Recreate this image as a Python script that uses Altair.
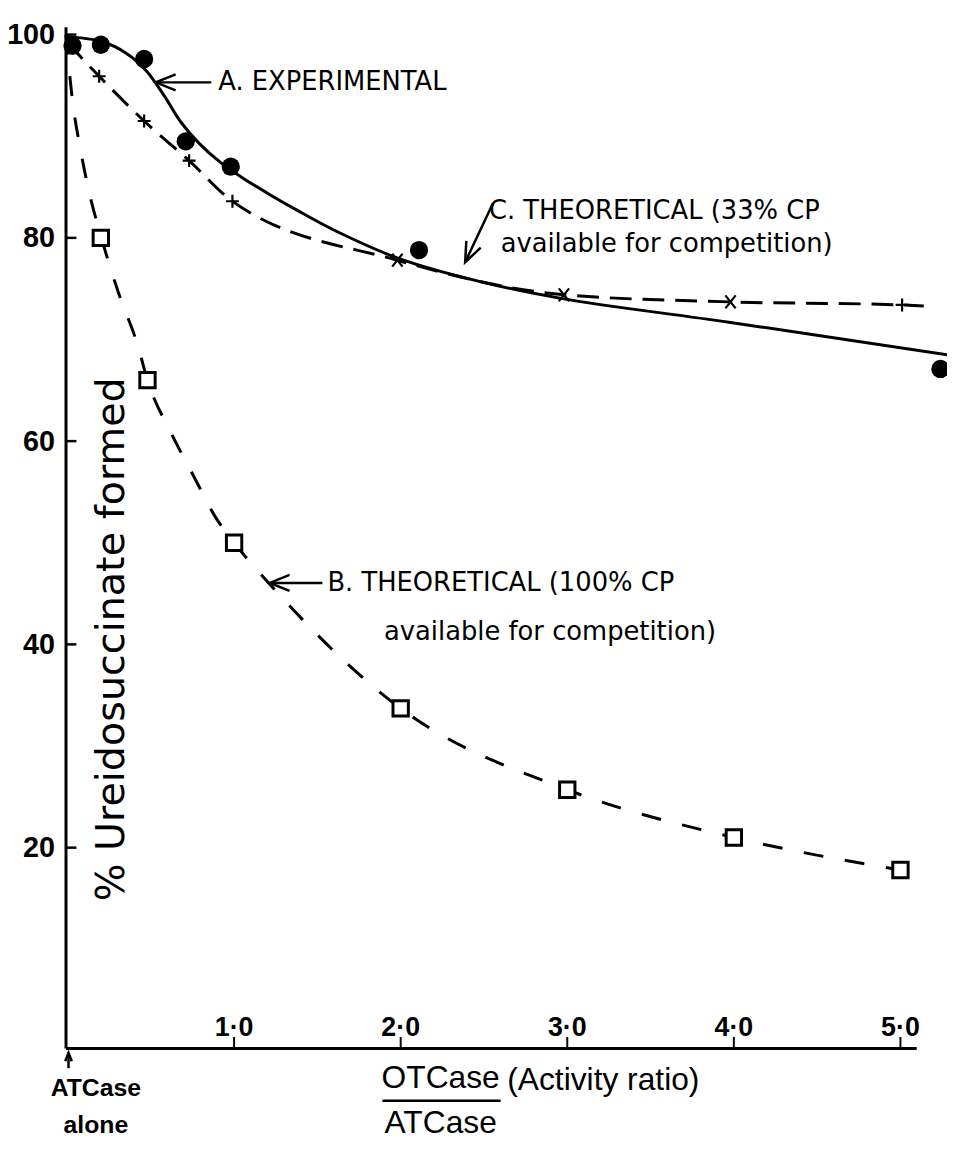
import altair as alt
import pandas as pd

# ---------------- data ----------------
# A. experimental points (filled circles)
exp_x = [0.03, 0.20, 0.46, 0.71, 0.98, 2.11, 5.24]
exp_y = [98.9, 99.0, 97.6, 89.5, 87.0, 78.8, 67.1]
# A. smooth hand-drawn curve through the experimental points (traced)
expc_x = [-0.01, 0.21, 0.35, 0.47, 0.58, 0.68, 0.79, 0.92, 1.07, 1.22, 1.38, 1.62, 2.0, 2.5, 2.98, 3.97, 5.28]
expc_y = [99.8, 99.3, 98.2, 96.5, 94.0, 91.4, 89.3, 87.4, 85.7, 84.2, 82.7, 80.6, 77.9, 75.6, 74.0, 71.7, 68.5]

# B. theoretical, 100% CP available (open squares)
b_x = [0.20, 0.48, 1.0, 2.0, 3.0, 4.0, 5.0]
b_y = [80.0, 66.0, 50.0, 33.7, 25.7, 21.0, 17.8]
# B. dashed curve (traced)
bc_x = [-0.01, 0.03, 0.08, 0.13, 0.20, 0.31, 0.42, 0.48, 0.625, 0.756, 0.893, 1.0, 1.21, 2.0, 3.0, 4.0, 5.0]
bc_y = [100.0, 93.5, 88.5, 84.5, 80.2, 74.4, 69.5, 66.0, 60.7, 56.6, 52.4, 50.0, 46.0, 33.7, 25.7, 21.0, 17.8]

# C. theoretical, 33% CP available (crosses)
c_x = [0.19, 0.46, 0.73, 0.99, 1.98, 2.98, 3.98, 5.01]
c_y = [95.9, 91.5, 87.6, 83.6, 77.8, 74.4, 73.7, 73.4]
c_kind = ["plus", "plus", "plus", "plus", "x", "x", "x", "plus"]
# C. dashed curve (traced)
cc_x = [0.0, 0.19, 0.46, 0.73, 0.99, 1.98, 2.98, 3.98, 5.01, 5.14]
cc_y = [99.2, 95.9, 91.5, 87.6, 83.6, 77.8, 74.4, 73.7, 73.4, 73.3]

# axis ticks / labels
x_ticks = [1, 2, 3, 4, 5]
x_tick_labels = ["1·0", "2·0", "3·0", "4·0", "5·0"]
y_ticks = [20, 40, 60, 80, 100]

# annotations (data coordinates)
ann_text = ["A. EXPERIMENTAL", "C. THEORETICAL (33% CP", "available for competition)",
            "B. THEORETICAL (100% CP", "available for competition)"]
ann_x = [0.905, 2.53, 2.60, 1.56, 1.90]
ann_y = [95.3, 82.6, 79.4, 46.05, 41.2]

arrow_x1 = [0.863, 2.554, 1.530, 0.006]
arrow_y1 = [95.3, 83.4, 46.05, -1.7]
arrow_x2 = [0.530, 2.387, 1.214, 0.006]
arrow_y2 = [95.3, 77.6, 46.05, -0.2]
arrow_angle = [180, 115, 180, 270]
arrow_size = [400, 400, 400, 70]

# labels under the x axis
origin_text = ["ATCase", "alone"]
origin_x = [0.17, 0.17]
origin_y = [-3.7, -7.3]
frac_text = ["OTCase", "ATCase"]
frac_x = [2.24, 2.24]
frac_y = [-2.7, -7.1]
ratio_text = ["(Activity ratio)"]
ratio_x = [2.64]
ratio_y = [-2.9]

# ---------------- scales ----------------
XS = alt.Scale(domain=[-0.012, 5.095], nice=False, zero=False)
YS = alt.Scale(domain=[0.29, 100.78], nice=False, zero=False)
LBLFONT = "Liberation Sans"
ANNFONT = "DejaVu Sans"

x_axis = alt.Axis(labels=False, ticks=False, grid=False, title=None,
                  domainColor="black", domainWidth=3)
y_axis = alt.Axis(values=y_ticks, ticks=False, grid=False, title=None,
                  domainColor="black", domainWidth=3, labelFont=LBLFONT,
                  labelFontSize=29, labelFontWeight="bold", labelColor="black",
                  labelPadding=11)


def X(f="x"):
    return alt.X(f"{f}:Q", scale=XS, axis=x_axis)


def Y(f="y"):
    return alt.Y(f"{f}:Q", scale=YS, axis=y_axis)


paths = {"plus": "M-1,0L1,0M0,-1L0,1", "x": "M-0.8,-1L0.8,1M-0.8,1L0.8,-1"}

exp_df = pd.DataFrame({"x": exp_x, "y": exp_y})
expc_df = pd.DataFrame({"x": expc_x, "y": expc_y})
b_df = pd.DataFrame({"x": b_x, "y": b_y})
bc_df = pd.DataFrame({"x": bc_x, "y": bc_y})
c_df = pd.DataFrame({"x": c_x, "y": c_y, "shape": [paths[k] for k in c_kind]})
cc_df = pd.DataFrame({"x": cc_x, "y": cc_y})

line_a = alt.Chart(expc_df).mark_line(color="black", strokeWidth=3, interpolate="catmull-rom").encode(
    x=X(), y=Y(), order="x:Q")
line_c = alt.Chart(cc_df).mark_line(color="black", strokeWidth=3, strokeDash=[22, 11],
                                     interpolate="monotone").encode(x=X(), y=Y(), order="x:Q")
line_b = alt.Chart(bc_df).mark_line(color="black", strokeWidth=3, strokeDash=[20, 22],
                                     interpolate="monotone").encode(x=X(), y=Y(), order="x:Q")

pts_a = alt.Chart(exp_df).mark_point(shape="circle", filled=True, color="black", size=340, opacity=1).encode(
    x=X(), y=Y())
pts_b = alt.Chart(b_df).mark_point(shape="square", filled=True, fill="white", stroke="black",
                                    strokeWidth=3, size=240, opacity=1).encode(x=X(), y=Y())
pts_c = alt.Chart(c_df).mark_point(filled=False, stroke="black", strokeWidth=2.2, size=170, opacity=1).encode(
    x=X(), y=Y(), shape=alt.Shape("shape:N", scale=None))

# inward ticks
xt_df = pd.DataFrame({"x": x_ticks, "label": x_tick_labels})
yt_df = pd.DataFrame({"y": y_ticks})
xticks = alt.Chart(xt_df).mark_rule(color="black", strokeWidth=2).encode(
    x=X(), y=alt.value(1030), y2=alt.value(1019))
yticks = alt.Chart(yt_df).mark_rule(color="black", strokeWidth=2.5).encode(
    y=Y(), x=alt.value(0), x2=alt.value(11))
xlabels = alt.Chart(xt_df.assign(y=2.2)).mark_text(
    font=LBLFONT, fontSize=27, fontWeight="bold", color="black", baseline="middle", align="center").encode(
    x=X(), y=Y(), text="label:N")

# annotations
ann_df = pd.DataFrame({"x": ann_x, "y": ann_y, "t": ann_text})
ann = alt.Chart(ann_df).mark_text(font=ANNFONT, fontSize=26, color="black", align="left",
                                  baseline="middle").encode(x=X(), y=Y(), text="t:N")

arr_df = pd.DataFrame({"x": arrow_x1, "y": arrow_y1, "x2": arrow_x2, "y2": arrow_y2,
                       "angle": arrow_angle, "size": arrow_size})
arr_lines = alt.Chart(arr_df).mark_rule(color="black", strokeWidth=2.5).encode(
    x=X(), y=Y(), x2="x2:Q", y2="y2:Q")
arr_heads = alt.Chart(arr_df).mark_point(shape="M-2,-0.8L0,0L-2,0.8", filled=False, stroke="black",
                                         strokeWidth=2.5, opacity=1).encode(
    x=X("x2"), y=Y("y2"), angle=alt.Angle("angle:Q", scale=None), size=alt.Size("size:Q", scale=None))

# y axis title drawn inside the frame, as in the original
ytitle = alt.Chart(pd.DataFrame({"x": [0.27], "y": [40.5], "t": ["% Ureidosuccinate formed"]})).mark_text(
    font=ANNFONT, fontSize=40, angle=270, color="black", align="center", baseline="middle").encode(
    x=X(), y=Y(), text="t:N")

origin_lbl = alt.Chart(pd.DataFrame({"x": origin_x, "y": origin_y, "t": origin_text})).mark_text(
    font=LBLFONT, fontSize=25, fontWeight="bold", color="black", align="center", baseline="middle").encode(
    x=X(), y=Y(), text="t:N")
frac_lbl = alt.Chart(pd.DataFrame({"x": frac_x, "y": frac_y, "t": frac_text})).mark_text(
    font=LBLFONT, fontSize=32, color="black", align="center", baseline="middle").encode(
    x=X(), y=Y(), text="t:N")
ratio_lbl = alt.Chart(pd.DataFrame({"x": ratio_x, "y": ratio_y, "t": ratio_text})).mark_text(
    font=LBLFONT, fontSize=32, color="black", align="left", baseline="middle").encode(
    x=X(), y=Y(), text="t:N")
underline = alt.Chart(pd.DataFrame({"x": [1.89], "x2": [2.60], "y": [-4.9]})).mark_rule(
    color="black", strokeWidth=2.5).encode(x=X(), x2="x2:Q", y=Y())

chart = alt.layer(
    line_b, line_c, line_a, pts_b, pts_c, pts_a, xticks, yticks, xlabels, ann, arr_lines, arr_heads,
    ytitle, origin_lbl, frac_lbl, ratio_lbl, underline
).properties(
    width=858, height=1030,
    autosize=alt.AutoSizeParams(type="none"),
    padding={"left": 58, "top": 14, "right": 31, "bottom": 90},
    background="white",
).configure_view(stroke=None)

chart.save("out.html", embed_options={"renderer": "svg", "actions": False})
